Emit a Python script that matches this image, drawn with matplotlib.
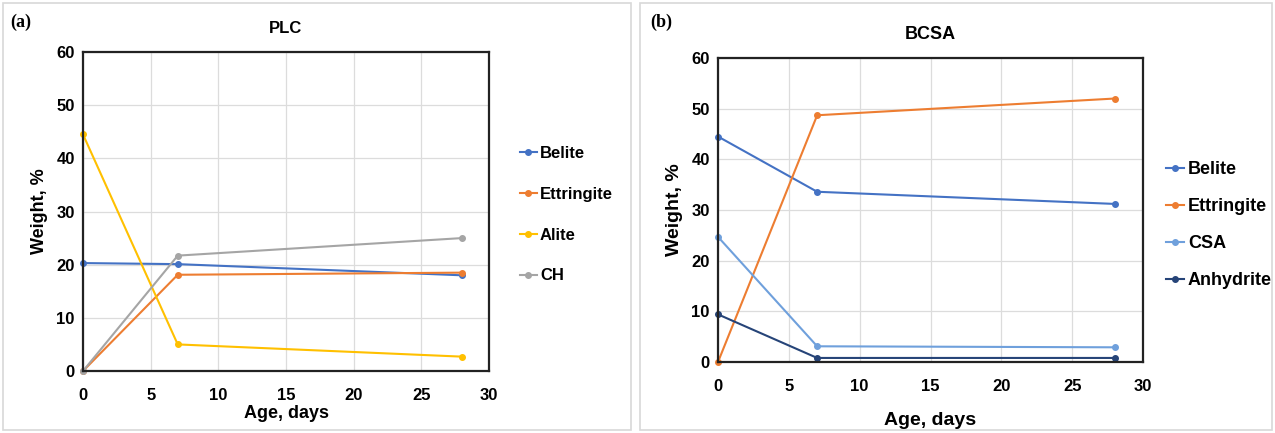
import matplotlib.pyplot as plt
from matplotlib.patches import Rectangle

plt.rcParams['font.family'] = ['Liberation Sans', 'DejaVu Sans']
plt.rcParams['font.weight'] = 'bold'

days = [0, 7, 28]

# PLC
plc_belite = [20.3, 20.1, 18.0]
plc_ettringite = [0.0, 18.1, 18.5]
plc_alite = [44.5, 5.0, 2.7]
plc_ch = [0.0, 21.7, 25.0]

# BCSA
bcsa_belite = [44.5, 33.6, 31.2]
bcsa_ettringite = [0.0, 48.7, 52.0]
bcsa_csa = [24.7, 3.1, 2.9]
bcsa_anhydrite = [9.4, 0.8, 0.8]

W, H = 1275, 433
fig = plt.figure(figsize=(W / 100, H / 100), dpi=100)

# light panel frames
for x0, x1 in [(3, 631), (640, 1272)]:
    fig.patches.append(Rectangle((x0 / W, 3 / H), (x1 - x0) / W, 427 / H,
                                 transform=fig.transFigure, fill=False,
                                 edgecolor='#d8d8d8', linewidth=1.2))


def style(ax, xpad):
    ax.set_xlim(0, 30)
    ax.set_ylim(0, 60)
    ax.set_xticks(range(0, 31, 5))
    ax.set_yticks(range(0, 61, 10))
    ax.grid(True, color='#dcdcdc', linewidth=0.9)
    ax.set_axisbelow(True)
    for s in ax.spines.values():
        s.set_linewidth(1.6)
        s.set_color('#222222')
    ax.tick_params(length=0, labelsize=12, pad=6)
    ax.tick_params(axis='x', pad=xpad)
    for lab in ax.get_xticklabels() + ax.get_yticklabels():
        lab.set_fontweight('bold')


def draw(ax, series):
    for y, c, name in series:
        ax.plot(days, y, color=c, marker='o', markersize=4, linewidth=1.5,
                label=name, clip_on=False)


ax1 = fig.add_axes([83 / W, 1 - 371 / H, 406 / W, 319 / H])
style(ax1, 12)
draw(ax1, [(plc_belite, '#4472C4', 'Belite'),
           (plc_ettringite, '#ED7D31', 'Ettringite'),
           (plc_alite, '#FFC000', 'Alite'),
           (plc_ch, '#A5A5A5', 'CH')])
ax1.set_xlabel('Age, days', fontsize=13, fontweight='bold', labelpad=2)
ax1.set_ylabel('Weight, %', fontsize=13, fontweight='bold', labelpad=6)
ax1.set_title('PLC', fontsize=12, fontweight='bold', pad=14)
ax1.legend(loc='upper left', bbox_to_anchor=(505 / W, 1 - 131 / H),
           bbox_transform=fig.transFigure, frameon=False, fontsize=12,
           handlelength=1.0, handletextpad=0.2, labelspacing=1.55)

ax2 = fig.add_axes([718 / W, 1 - 362 / H, 425 / W, 304 / H])
style(ax2, 12)
draw(ax2, [(bcsa_belite, '#4472C4', 'Belite'),
           (bcsa_ettringite, '#ED7D31', 'Ettringite'),
           (bcsa_csa, '#6FA0DC', 'CSA'),
           (bcsa_anhydrite, '#264478', 'Anhydrite')])
ax2.set_xlabel('Age, days', fontsize=14, fontweight='bold', labelpad=13)
ax2.set_ylabel('Weight, %', fontsize=14, fontweight='bold', labelpad=6)
ax2.set_title('BCSA', fontsize=13, fontweight='bold', pad=14)
ax2.legend(loc='upper left', bbox_to_anchor=(1150 / W, 1 - 145 / H),
           bbox_transform=fig.transFigure, frameon=False, fontsize=13,
           handlelength=1.0, handletextpad=0.2, labelspacing=1.1)

fig.text(10 / W, 1 - 22 / H, '(a)', family='Liberation Serif', fontsize=13,
         fontweight='bold', va='center')
fig.text(650 / W, 1 - 22 / H, '(b)', family='Liberation Serif', fontsize=13,
         fontweight='bold', va='center')

fig.savefig('out.png', dpi=100)
